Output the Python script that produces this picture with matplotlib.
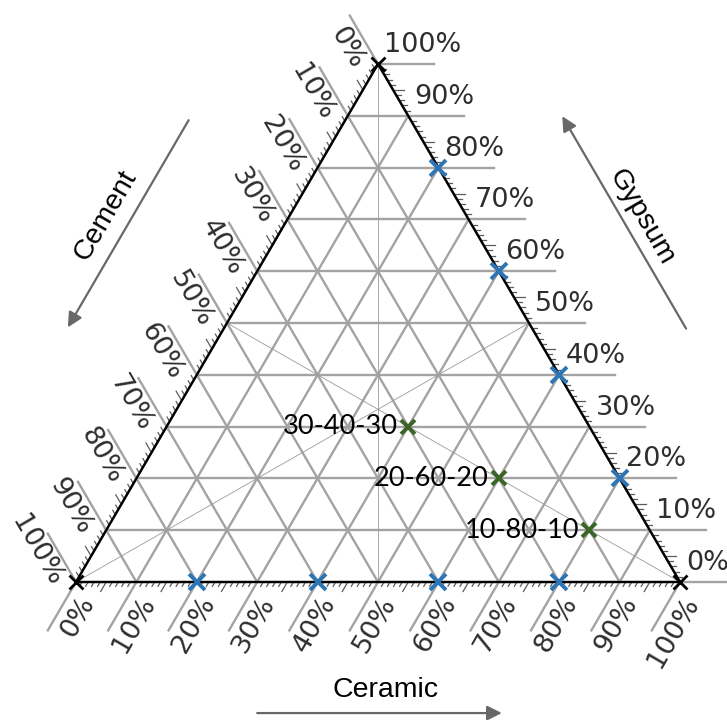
import numpy as np
import matplotlib
matplotlib.use("Agg")
import matplotlib.pyplot as plt

# composition points (percent)
edge_gypsum = [80, 60, 40, 20]          # on the Ceramic-Gypsum side (no cement)
base_ceramic = [20, 40, 60, 80]         # on the Cement-Ceramic side (no gypsum)
mix_cement = [30, 20, 10]
mix_ceramic = [40, 60, 80]
mix_gypsum = [30, 20, 10]
mix_labels = ["30-40-30", "20-60-20", "10-80-10"]
tick_values = list(range(0, 101, 10))

H = 518 / 604            # triangle height (base = 1)
PX = 1 / 604             # one pixel in data units
GRID = "#a3a3a3"
BLUE = "#2e75b6"
GREEN = "#3b6426"
TXT = "#2e2e2e"


def xy(cer, gyp):
    """ternary (ceramic, gypsum) fractions -> cartesian"""
    return np.array([cer + 0.5 * gyp, gyp * H])


A = xy(0, 0)   # 100% cement
B = xy(1, 0)   # 100% ceramic
C = xy(0, 1)   # 100% gypsum


def unit(v):
    return v / np.hypot(*v)


fig = plt.figure(figsize=(7.27, 7.20), dpi=100)
ax = fig.add_axes([0, 0, 1, 1])
ax.set_xlim(-76 / 604, 651 / 604)
ax.set_ylim(-138 / 604, 582 / 604)
ax.axis("off")

# outward directions for the three scales
d_gyp = np.array([1.0, 0.0])        # horizontal lines, labelled on the right
d_cem = unit(C - B)                 # parallel to the right side, out past the left side
d_cer = unit(A - C)                 # parallel to the left side, out below the base
ext = 56 * PX

# grid lines with their extensions past the sides
for k in tick_values:
    f = k / 100
    # gypsum = f
    p0, p1 = xy(0, f), xy(1 - f, f)
    ax.plot([p0[0], p1[0] + ext], [p0[1], p1[1]], color=GRID, lw=1.7, zorder=1)
    # cement = f
    p0, p1 = xy(1 - f, 0), xy(0, 1 - f)
    q = p1 + ext * d_cem
    ax.plot([p0[0], q[0]], [p0[1], q[1]], color=GRID, lw=1.7, zorder=1)
    # ceramic = f
    p0, p1 = xy(f, 1 - f), xy(f, 0)
    q = p1 + ext * d_cer
    ax.plot([p0[0], q[0]], [p0[1], q[1]], color=GRID, lw=1.7, zorder=1)

# medians
for v, m in [(A, xy(0.5, 0.5)), (B, xy(0, 0.5)), (C, xy(0.5, 0))]:
    ax.plot([v[0], m[0]], [v[1], m[1]], color="#9a9a9a", lw=0.6, zorder=2)

# minor ticks every 1%
for k in range(1, 100):
    if k % 10 == 0:
        continue
    f = k / 100
    ln = (11 if k % 5 == 0 else 5) * PX
    for p, d in [(xy(1 - f, f), d_gyp), (xy(0, 1 - f), d_cem), (xy(f, 0), d_cer)]:
        q = p + ln * d
        ax.plot([p[0], q[0]], [p[1], q[1]], color="#5c5c5c", lw=0.9, zorder=2)

# triangle sides
tri = np.array([A, B, C, A])
ax.plot(tri[:, 0], tri[:, 1], color="black", lw=1.7, zorder=3)


def perp(d):
    return np.array([-d[1], d[0]])


ang = np.degrees(np.arctan2(H, 0.5))
tick_kw = dict(fontsize=19.5, color=TXT, va="center", rotation_mode="anchor",
               family="DejaVu Sans", zorder=4)
for k in tick_values:
    f = k / 100
    lab = f"{k}%"
    p = xy(1 - f, f) + 6 * PX * d_gyp + 19 * PX * perp(d_gyp)
    ax.text(p[0], p[1], lab, ha="left", rotation=0, **tick_kw)
    p = xy(0, 1 - f) + 8 * PX * d_cem + 19 * PX * perp(d_cem)
    ax.text(p[0], p[1], lab, ha="right", rotation=-ang, **tick_kw)
    p = xy(f, 0) + 8 * PX * d_cer + 19 * PX * perp(d_cer)
    ax.text(p[0], p[1], lab, ha="right", rotation=ang, **tick_kw)

# sample points
mk = dict(marker="x", ls="none", zorder=5)
pts = np.array([xy(1 - g / 100, g / 100) for g in edge_gypsum])
ax.plot(pts[:, 0], pts[:, 1], color=BLUE, ms=11, mew=2.8, **mk)
pts = np.array([xy(c / 100, 0) for c in base_ceramic])
ax.plot(pts[:, 0], pts[:, 1], color=BLUE, ms=11, mew=2.8, **mk)
ax.plot(tri[:3, 0], tri[:3, 1], color="black", ms=10, mew=2, **mk)
for ce, cr, gy, lab in zip(mix_cement, mix_ceramic, mix_gypsum, mix_labels):
    p = xy(cr / 100, gy / 100)
    ax.plot(p[0], p[1], color=GREEN, ms=10, mew=2.8, **mk)
    ax.text(p[0] - 10 * PX, p[1], lab, ha="right", va="center", fontsize=19.5,
            family="Lato", color="black", zorder=5)


def side_arrow(p_from, p_to, t0, t1, off):
    """arrow drawn alongside side p_from->p_to, offset outwards"""
    d = p_to - p_from
    n = -perp(unit(d))
    s = p_from + t0 * d + off * n
    e = p_from + t1 * d + off * n
    ax.annotate("", xy=e, xytext=s,
                arrowprops=dict(arrowstyle="-|>", color="#686868", lw=1.6,
                                mutation_scale=22, shrinkA=0, shrinkB=0))


side_arrow(C, A, 0.24, 0.64, 0.224)
side_arrow(B, C, 0.36, 0.77, 0.22)
side_arrow(A, B, 0.30, 0.705, 0.217)

lab_kw = dict(fontsize=20.5, family="Liberation Sans", color="black",
              ha="center", va="center", rotation_mode="anchor")
p = xy(0, 0.553) + 0.264 * perp(unit(C - A))
ax.text(p[0], p[1], "Cement", rotation=ang, **lab_kw)
p = B + 0.558 * (C - B) - 0.249 * perp(unit(C - B))
ax.text(p[0], p[1], "Gypsum", rotation=-ang, **lab_kw)
p = xy(0.5116, 0) + np.array([0, -0.179])
ax.text(p[0], p[1], "Ceramic", **lab_kw)

fig.savefig("out.png", dpi=100)
